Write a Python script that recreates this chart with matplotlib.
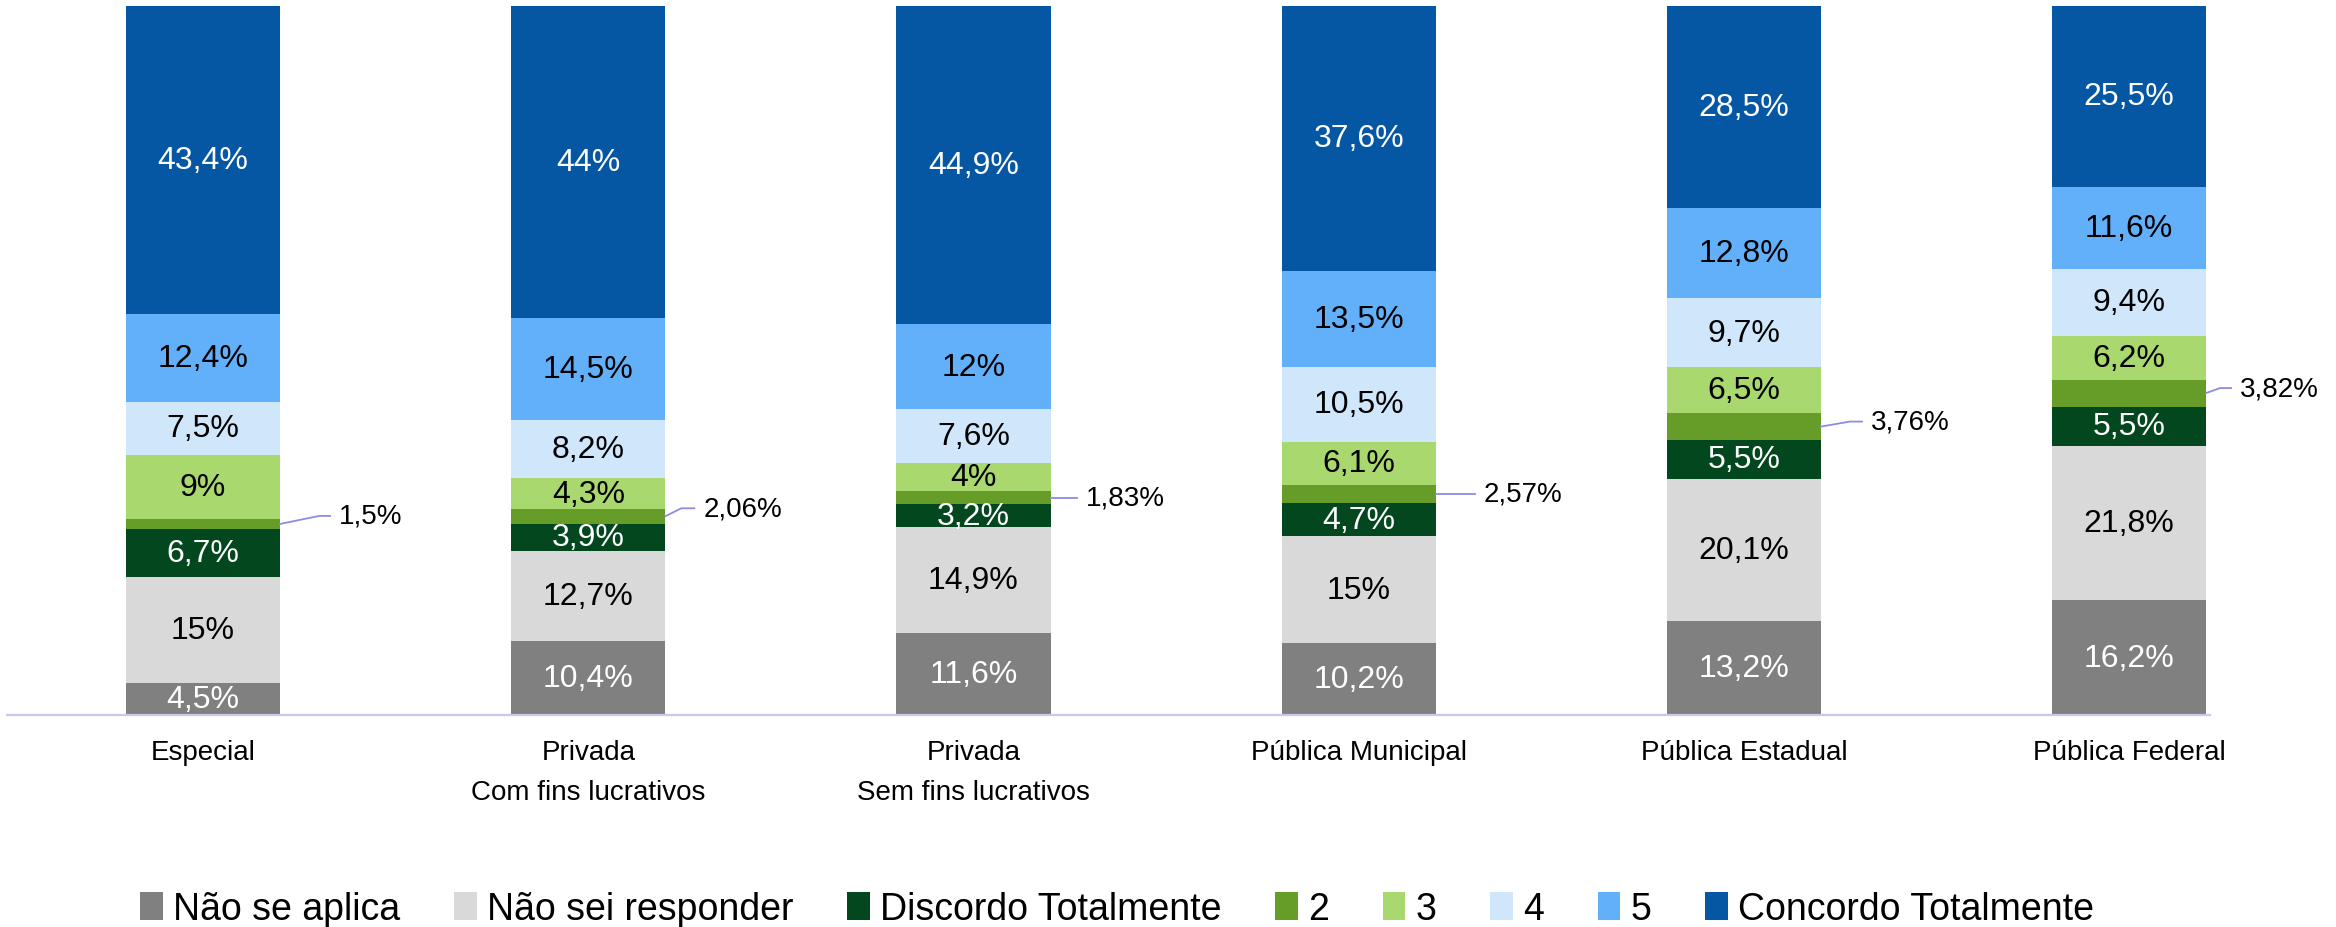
import matplotlib
matplotlib.use('Agg')
import matplotlib.pyplot as plt
from matplotlib.patches import Patch
from matplotlib.lines import Line2D
from matplotlib.transforms import IdentityTransform

plt.rcParams['font.family'] = ['Liberation Sans', 'DejaVu Sans']

categorias = ['Especial', 'Privada\nCom fins lucrativos', 'Privada\nSem fins lucrativos',
              'Pública Municipal', 'Pública Estadual', 'Pública Federal']
series = ['Não se aplica', 'Não sei responder', 'Discordo Totalmente', '2', '3', '4', '5',
          'Concordo Totalmente']

nao_aplica = [4.5, 10.4, 11.6, 10.2, 13.2, 16.2]
nao_sei = [15, 12.7, 14.9, 15, 20.1, 21.8]
discordo = [6.7, 3.9, 3.2, 4.7, 5.5, 5.5]
nivel2 = [1.5, 2.06, 1.83, 2.57, 3.76, 3.82]
nivel3 = [9, 4.3, 4, 6.1, 6.5, 6.2]
nivel4 = [7.5, 8.2, 7.6, 10.5, 9.7, 9.4]
nivel5 = [12.4, 14.5, 12, 13.5, 12.8, 11.6]
concordo = [43.4, 44, 44.9, 37.6, 28.5, 25.5]

valores = [nao_aplica, nao_sei, discordo, nivel2, nivel3, nivel4, nivel5, concordo]
cores = ['#808080', '#d9d9d9', '#03471f', '#669d29', '#a9d86e', '#cfe6fb', '#62b0fa', '#0557a4']
cor_texto = ['white', 'black', 'white', None, 'black', 'black', 'black', 'white']

# leader lines for the "2" segment: (bend dx, end dx, dy) in pixels
callout_geom = [(39, 50, 8), (16, 29, 8), (0, 26, 0), (0, 39, 0), (29, 41, 5), (14, 25, 5)]


def fmt(v):
    return f'{v:g}'.replace('.', ',') + '%'


fig = plt.figure(figsize=(23.36, 9.28), dpi=100)
ax = fig.add_axes([7 / 2336, 212 / 928, (2210 - 7) / 2336, (716 - 7) / 928])

x = list(range(len(categorias)))
w = 0.4
base = [0.0] * len(categorias)
for i, vals in enumerate(valores):
    bars = ax.bar(x, vals, w, bottom=base, color=cores[i], linewidth=0)
    if cor_texto[i] is not None:
        for b, v, y0 in zip(bars, vals, base):
            ax.text(b.get_x() + w / 2, y0 + v / 2, fmt(v), ha='center', va='center',
                    fontsize=23, color=cor_texto[i])
    else:
        seg_centers = [(b.get_x() + w, y0 + v / 2) for b, v, y0 in zip(bars, vals, base)]
        seg_vals = list(vals)
    base = [a + v for a, v in zip(base, vals)]

ax.set_xlim(-0.509, 5.21)
ax.set_ylim(0, 100)
for s in ['left', 'right', 'top']:
    ax.spines[s].set_visible(False)
ax.spines['bottom'].set_color('#c8c8f0')
ax.spines['bottom'].set_linewidth(1.6)
ax.set_yticks([])
ax.set_xticks(x)
ax.set_xticklabels(categorias, fontsize=20, linespacing=1.68)
ax.tick_params(axis='x', length=0, pad=17.5)

fig.canvas.draw()
for (xe, yc), v, (dxb, dxe, dy) in zip(seg_centers, seg_vals, callout_geom):
    px, py = ax.transData.transform((xe, yc))
    if dxb:
        xs = [px, px + dxb, px + dxe]
        ys = [py, py + dy, py + dy]
    else:
        xs = [px, px + dxe]
        ys = [py, py]
    fig.add_artist(Line2D(xs, ys, color='#8c8ce6', linewidth=1.3, transform=IdentityTransform()))
    fig.text((px + dxe + 9) / 2336, (py + dy) / 928, fmt(v), ha='left', va='center',
             fontsize=20, color='black')

handles = [Patch(facecolor=c, edgecolor='none') for c in cores]
fig.legend(handles, series, loc='center', bbox_to_anchor=(1117 / 2336, 0.0194), ncol=8,
           frameon=False, fontsize=27, handlelength=0.6, handleheight=0.75,
           handletextpad=0.27, columnspacing=1.44)

fig.savefig('out.png', dpi=100, facecolor='white')
